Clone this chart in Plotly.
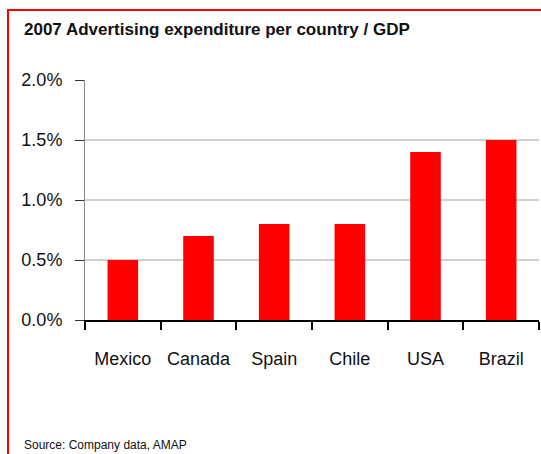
import plotly.graph_objects as go

# Advertising spend as a share of GDP, 2007 (%)
countries = ["Mexico", "Canada", "Spain", "Chile", "USA", "Brazil"]
ad_spend_pct_gdp = [0.5, 0.7, 0.8, 0.8, 1.4, 1.5]
y_ticks = [0.0, 0.5, 1.0, 1.5, 2.0]
y_tick_labels = ["0.0%", "0.5%", "1.0%", "1.5%", "2.0%"]

W, H = 541, 454
M_L, M_R, M_T, M_B = 85, 2, 80, 134
PW, PH = W - M_L - M_R, H - M_T - M_B


def px_x(x):
    """Pixel column -> paper x."""
    return (x - M_L) / PW


def px_y(y):
    """Pixel row (from top) -> paper y."""
    return (H - M_B - y) / PH


BODY_FONT = "Liberation Sans, Arial, sans-serif"
NARROW_FONT = "Liberation Sans Narrow, Arial Narrow, Liberation Sans, Arial, sans-serif"

fig = go.Figure(
    go.Bar(
        x=countries,
        y=ad_spend_pct_gdp,
        marker=dict(color="#ff0000", line=dict(width=0)),
        hoverinfo="x+y",
    )
)

fig.update_layout(
    width=W,
    height=H,
    margin=dict(l=M_L, r=M_R, t=M_T, b=M_B),
    paper_bgcolor="white",
    plot_bgcolor="white",
    bargap=0.596,
    showlegend=False,
    font=dict(family=BODY_FONT, size=18, color="#111111"),
)

fig.update_xaxes(
    type="category",
    tickson="boundaries",
    ticks="outside",
    ticklen=8,
    tickwidth=2,
    tickcolor="#000000",
    showline=True,
    linecolor="#000000",
    linewidth=2,
    showgrid=False,
    ticklabelstandoff=21,
    tickfont=dict(family=BODY_FONT, size=18, color="#111111"),
)

fig.update_yaxes(
    range=[0, 2.0],
    tickvals=y_ticks,
    ticktext=y_tick_labels,
    ticks="outside",
    ticklen=9,
    tickwidth=1,
    tickcolor="#333333",
    showline=True,
    linecolor="#888888",
    linewidth=1,
    showgrid=True,
    gridcolor="#d0d0d0",
    gridwidth=1.5,
    zeroline=False,
    ticklabelstandoff=9,
    tickfont=dict(family=BODY_FONT, size=18, color="#111111"),
)

# Red frame: top rule and left rule
fig.add_shape(type="line", xref="paper", yref="paper",
              x0=px_x(8), x1=px_x(W + 2), y0=px_y(10), y1=px_y(10),
              line=dict(color="#ff0000", width=2))
fig.add_shape(type="line", xref="paper", yref="paper",
              x0=px_x(8), x1=px_x(8), y0=px_y(9), y1=px_y(H + 2),
              line=dict(color="#ff0000", width=2))

fig.add_annotation(
    text="<b>2007 Advertising expenditure per country / GDP</b>",
    xref="paper", yref="paper",
    x=px_x(22), y=px_y(29),
    xanchor="left", yanchor="middle",
    showarrow=False,
    font=dict(family=NARROW_FONT, size=17, color="#111111"),
)

fig.add_annotation(
    text="Source: Company data, AMAP",
    xref="paper", yref="paper",
    x=px_x(22), y=px_y(445),
    xanchor="left", yanchor="middle",
    showarrow=False,
    font=dict(family=NARROW_FONT, size=12, color="#111111"),
)

fig.write_html("out.html")
